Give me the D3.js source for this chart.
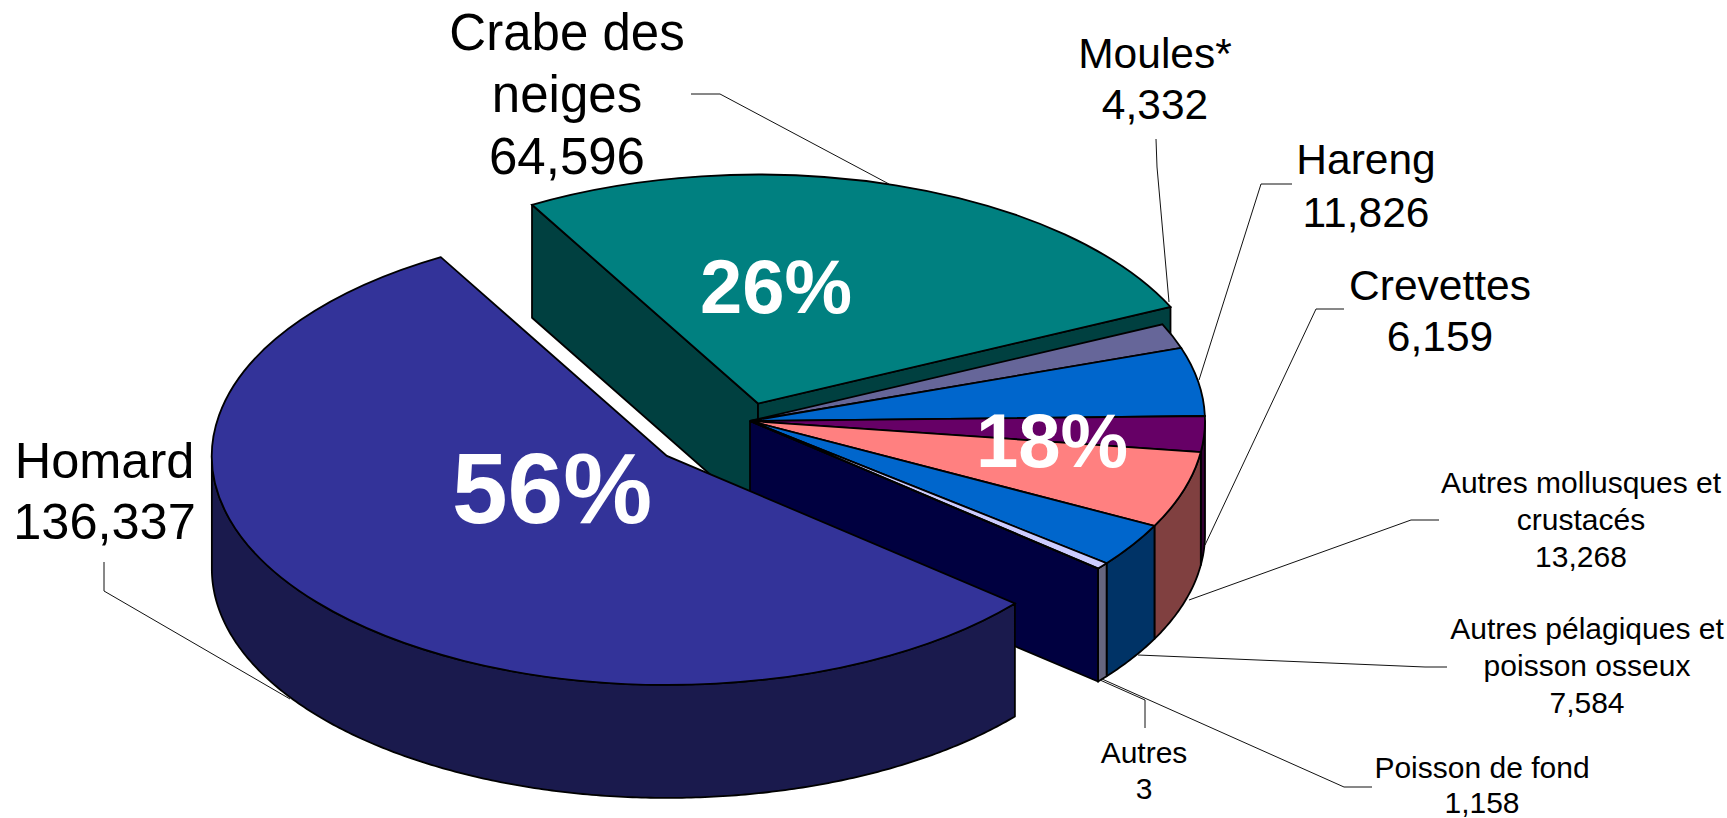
<!DOCTYPE html>
<html lang="fr">
<head>
<meta charset="utf-8">
<title>Débarquements par espèce</title>
<script src="https://cdn.jsdelivr.net/npm/d3@7"></script>
<style>
html,body{margin:0;padding:0;background:#fff;overflow:hidden}
svg{display:block}
text{font-family:"Liberation Sans",Arial,sans-serif}
</style>
</head>
<body>
<svg id="chart" width="1727" height="818"></svg>
<script>
// ---- data ----
const categories = ["Homard","Crabe des neiges","Moules*","Hareng","Crevettes","Autres mollusques et crustacés","Autres pélagiques et poisson osseux","Poisson de fond","Autres"];
const values = [136337,64596,4332,11826,6159,13268,7584,1158,3];
const categoryLines = [["Homard"],["Crabe des","neiges"],["Moules*"],["Hareng"],["Crevettes"],["Autres mollusques et","crustacés"],["Autres pélagiques et","poisson osseux"],["Poisson de fond"],["Autres"]];
const topColors = ["#333399","#008080","#666699","#0066CC","#660066","#FF8080","#0066CC","#CCCCFF","#000080"];
const wallColors = ["#1A1A4D","#004040","#333366","#003366","#330033","#804040","#003366","#666680","#000040"];
const groupShares = ["56%","26%","18%"];

// ---- layout ----
const W = 1727, H = 818;
const cx = 750, cy = 421, rx = 455, ry = 229, depth = 113;
const explode = [0.238,0.08,0,0,0,0,0,0,0];
const nudgeX = [0,-3,0,0,0,0,0,0,0];
const startDeg = 130.1;
const labelLayout = [
  {x:104.5,y:[478,539],size:50.5},
  {x:567,y:[50,112,174],size:51},
  {x:1155,y:[68,119],size:42.5},
  {x:1366,y:[174,227],size:42.5},
  {x:1440,y:[300,351],size:42.5},
  {x:1581,y:[493,530,567],size:30},
  {x:1587,y:[639,676,713],size:30},
  {x:1482,y:[778,813],size:30},
  {x:1144,y:[763,799],size:30}
];
const leaders = [
  [[104,562],[104,591],[290,699]],
  [[691,94],[720,94],[889,184]],
  [[1156,139],[1157,167],[1169,302]],
  [[1292,184],[1261,184],[1199,380]],
  [[1344,309],[1316,309],[1205,545]],
  [[1439,520],[1411,520],[1189,600]],
  [[1447,667],[1425,667],[1138,655]],
  [[1372,787],[1344,787],[1102,679]],
  [[1145,728],[1145,700],[1100,680]]
];
const shareLayout = [{x:552,y:523,size:100},{x:776,y:313,size:76},{x:1052,y:467,size:76}];

// ---- construction ----
const svg = d3.select("#chart");
const fmt = d3.format(",");
const rad = d3.scaleLinear().domain([0,360]).range([0,2*Math.PI]);
const pie = d3.pie().sort(null).value(d=>d).startAngle(rad(startDeg)).endAngle(rad(startDeg+360));
const arcs = pie(values).map((d,i)=>{
  const mid = (d.startAngle+d.endAngle)/2 - Math.PI/2;
  return {...d,i,ox:cx+nudgeX[i]+explode[i]*rx*Math.cos(mid),oy:cy+explode[i]*ry*Math.sin(mid)};
});
const rim = (d,a)=>[d.ox+rx*Math.sin(a), d.oy-ry*Math.cos(a)];
const line = d3.line();
const topArc = d3.arc().innerRadius(0).outerRadius(rx);
const wallColorOf = d=>wallColors[d.i];
const strokeW = 1.8;

function cutFace(d,a){
  const p = rim(d,a);
  return line([[d.ox,d.oy],p,[p[0],p[1]+depth],[d.ox,d.oy+depth]])+"Z";
}
function rimWall(d){
  // front of the cylinder: only the part turned toward the viewer (90deg..270deg in pie angle)
  const t = 2*Math.PI;
  let lo = d.startAngle, hi = d.endAngle;
  let out = null;
  [0,t].forEach(k=>{
    const a = Math.max(lo,Math.PI/2+k), b = Math.min(hi,3*Math.PI/2+k);
    if(b>a) out=[a,b];
  });
  if(!out) return null;
  const n = Math.max(2,Math.ceil((out[1]-out[0])/0.01));
  const as = d3.range(n+1).map(j=>out[0]+(out[1]-out[0])*j/n);
  const upper = as.map(a=>rim(d,a));
  const lower = upper.map(p=>[p[0],p[1]+depth]).reverse();
  return line(upper.concat(lower))+"Z";
}
function drawFace(path,color){
  svg.append("path").attr("d",path).attr("fill",color)
    .attr("stroke","#000").attr("stroke-width",strokeW).attr("stroke-linejoin","round");
}
function drawTop(d){
  svg.append("path")
    .attr("d",topArc(d))
    .attr("transform",`translate(${d.ox},${d.oy}) scale(1,${ry/rx})`)
    .attr("fill",topColors[d.i])
    .attr("stroke","#000").attr("stroke-width",strokeW)
    .attr("vector-effect","non-scaling-stroke")
    .attr("stroke-linejoin","miter");
}

const homard = arcs[0], crabe = arcs[1], rest = arcs.slice(2);
const lastRest = rest[rest.length-1];

// exploded snow-crab slice: both cut faces, behind everything else
drawFace(cutFace(crabe,crabe.startAngle),wallColorOf(crabe));
drawFace(cutFace(crabe,crabe.endAngle),wallColorOf(crabe));
// the main group: closing cut face, rim, tops
drawFace(cutFace(lastRest,lastRest.endAngle),wallColorOf(lastRest));
rest.forEach(d=>{const p=rimWall(d); if(p) drawFace(p,wallColorOf(d));});
rest.forEach(drawTop);
drawTop(crabe);
// exploded lobster slice in front
drawFace(rimWall(homard),wallColorOf(homard));
drawTop(homard);

// leaders
svg.append("g").selectAll("path").data(leaders).join("path")
  .attr("d",d=>line(d)).attr("fill","none").attr("stroke","#111").attr("stroke-width",1);

// category labels
categories.forEach((c,i)=>{
  const L = labelLayout[i];
  const lines = categoryLines[i].concat(fmt(values[i]));
  lines.forEach((t,j)=>{
    svg.append("text").attr("x",L.x).attr("y",L.y[j])
      .attr("text-anchor","middle").attr("font-size",L.size).attr("fill","#000").text(t);
  });
});

// share labels
groupShares.forEach((t,i)=>{
  const L = shareLayout[i];
  svg.append("text").attr("x",L.x).attr("y",L.y)
    .attr("text-anchor","middle").attr("font-size",L.size).attr("font-weight","bold").attr("fill","#fff").text(t);
});
</script>
</body>
</html>
